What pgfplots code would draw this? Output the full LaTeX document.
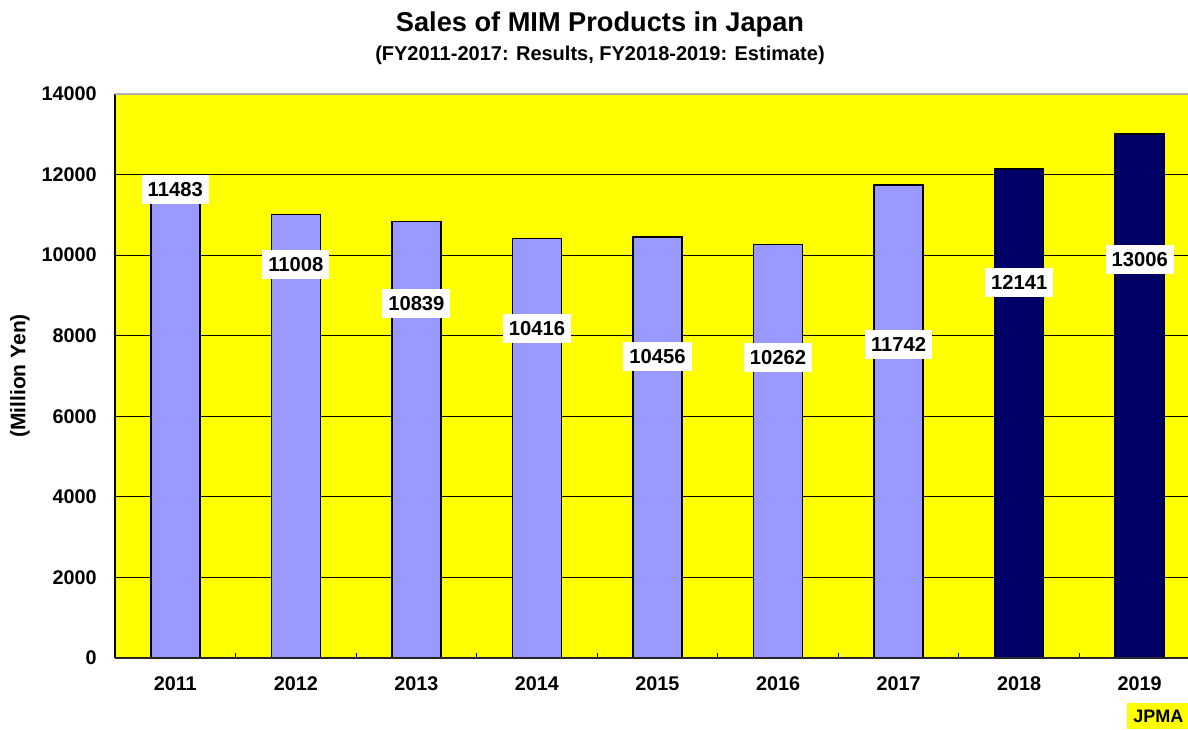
\documentclass[border=0pt]{standalone}
\usepackage{pgfplots}
\pgfplotsset{compat=1.18}
\usepackage{fontspec}
\setmainfont{Liberation Sans}
\definecolor{barlight}{HTML}{9999FF}
\definecolor{bardark}{HTML}{000066}
\definecolor{bgyellow}{HTML}{FFFF00}
\begin{document}
\begin{tikzpicture}
\begin{axis}[
 at={(0,0)}, anchor=south west,
 scale only axis, width=542.5pt, height=282pt,
 xmin=-0.5, xmax=8.5, ymin=0, ymax=14000,
 ytick={0,2000,...,14000},
 xtick={0,1,2,3,4,5,6,7,8},
 xticklabels={2011,2012,2013,2014,2015,2016,2017,2018,2019},
 minor xtick={0.5,1.5,2.5,3.5,4.5,5.5,6.5,7.5},
 major tick length=0pt, minor tick length=2.5pt, tick align=inside,
 xtick pos=bottom, ytick pos=left,
 scaled y ticks=false,
 /pgf/number format/1000 sep={},
 /pgf/number format/assume math mode=true,
 tick label style={font=\fontsize{9.9}{11}\selectfont\bfseries},
 yticklabel style={anchor=east, inner sep=0pt, xshift=-9pt},
 xticklabel style={anchor=center, inner sep=0pt, yshift=-13pt},
 ymajorgrids, grid style={black, line width=0.6pt},
 axis line style={draw=none},
 axis background/.style={fill=bgyellow},
 minor tick style={black, line width=0.5pt},
 clip=false,
]
\addplot[ybar, bar width=24.5pt, bar shift=0pt, fill=barlight, draw=black, line width=0.75pt]
 coordinates {(0,11483) (1,11008) (2,10839) (3,10416) (4,10456) (5,10262) (6,11742)};
\addplot[ybar, bar width=24.5pt, bar shift=0pt, fill=bardark, draw=black, line width=0.75pt]
 coordinates {(7,12141) (8,13006)};
\addplot[draw=none, mark=none, nodes near coords, point meta=explicit symbolic,
 nodes near coords align=center,
 every node near coord/.append style={fill=white, text=black, inner xsep=3pt, inner ysep=0pt,
   text height=7.2pt, text depth=0pt, minimum height=14.5pt,
   font=\fontsize{10.1}{11}\selectfont\bfseries}]
 table[meta=lab] {
 x y lab
 0 11629 11483
 1 9768 11008
 2 8800 10839
 3 8184 10416
 4 7479 10456
 5 7452 10262
 6 7787 11742
 7 9328 12141
 8 9904 13006
 };
\draw[black, line width=0.75pt] (rel axis cs:0,0) -- (rel axis cs:0,1);
\draw[black!85, line width=0.75pt] (rel axis cs:0,0) -- (rel axis cs:1,0);
\draw[gray!60, line width=1pt] (rel axis cs:0,1) -- (rel axis cs:1,1);
\end{axis}
\node[font=\fontsize{13.6}{16}\selectfont\bfseries] at (242.5pt,317pt) {Sales of MIM Products in Japan};
\node[font=\fontsize{10}{12}\selectfont\bfseries] at (242.5pt,301.5pt) {(FY2011-2017: Results, FY2018-2019: Estimate)};
\node[font=\fontsize{10.5}{12}\selectfont\bfseries, rotate=90] at (-47.5pt,141pt) {(Million Yen)};
\node[fill=bgyellow, font=\fontsize{9}{11}\selectfont\bfseries, inner xsep=3pt, inner ysep=0pt, text height=6.5pt, text depth=0pt, minimum height=13pt, anchor=west] at (506pt,-29pt) {JPMA\hspace{6pt}};
\pgfresetboundingbox
\useasboundingbox (-57.5pt,-35.5pt) rectangle (536.5pt,329pt);
\end{tikzpicture}
\end{document}
